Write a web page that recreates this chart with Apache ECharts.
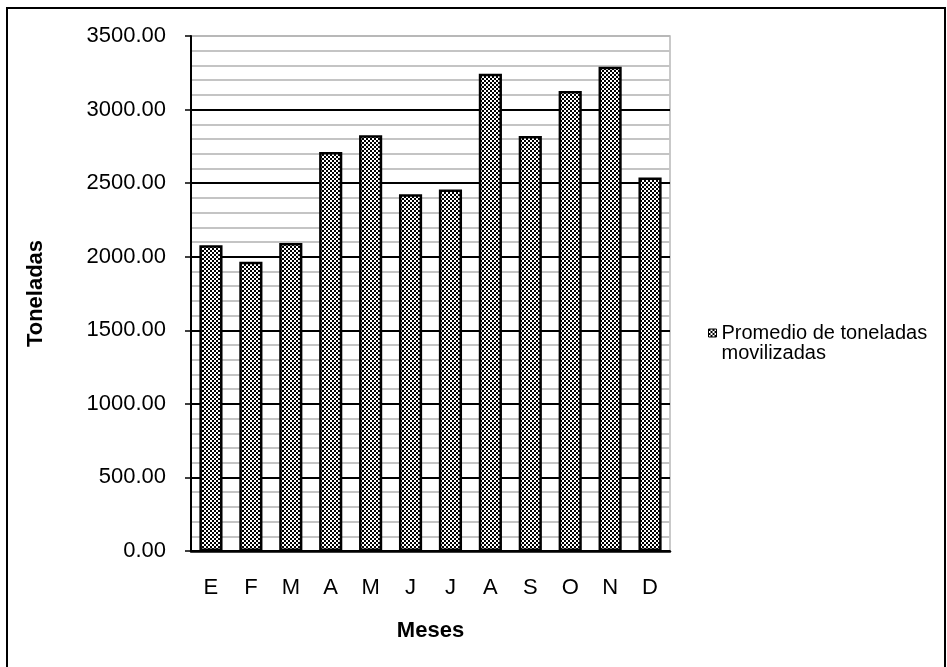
<!DOCTYPE html>
<html>
<head>
<meta charset="utf-8">
<script src="https://cdn.jsdelivr.net/npm/echarts@6/dist/echarts.min.js"></script>
<style>
  html, body { margin: 0; padding: 0; background: #fff; }
  #chart { width: 947px; height: 667px; }
</style>
</head>
<body>
<div id="chart"></div>
<script>
// Months (Spanish initials) and average tonnage moved per month
const months = ['E', 'F', 'M', 'A', 'M', 'J', 'J', 'A', 'S', 'O', 'N', 'D'];
const tonnage = [2078, 1966, 2093, 2711, 2825, 2425, 2457, 3243, 2820, 3127, 3291, 2539];
const seriesName = 'Promedio de toneladas movilizadas';
const yMax = 3500;
const yStep = 500;

// Small checkerboard fill for the bars
function checkerPattern() {
  const c = document.createElement('canvas');
  c.width = 4; c.height = 4;
  const g = c.getContext('2d');
  g.fillStyle = '#ffffff';
  g.fillRect(0, 0, 4, 4);
  g.fillStyle = '#000000';
  g.fillRect(0, 0, 2, 2);
  g.fillRect(2, 2, 2, 2);
  return c;
}
const pattern = { image: checkerPattern(), repeat: 'repeat' };

const font = '"Liberation Sans", Arial, sans-serif';
const chart = echarts.init(document.getElementById('chart'), null, { renderer: 'canvas' });

// Major grid lines are black, the top one (at the max) grey like the plot frame
const majorColors = [];
for (let v = 0; v <= yMax; v += yStep) majorColors.push(v === yMax ? '#b8b8b8' : '#000000');

chart.setOption({
  animation: false,
  backgroundColor: '#ffffff',
  textStyle: { fontFamily: font },
  graphic: [{
    type: 'rect',
    shape: { x: 7, y: 8, width: 938, height: 700 },
    style: { fill: 'none', stroke: '#000', lineWidth: 2 },
    silent: true
  }],
  grid: {
    left: 191, top: 36, right: 277, bottom: 116,
    show: true, borderColor: '#b8b8b8', borderWidth: 1.5
  },
  legend: {
    left: 703, top: 298,
    itemWidth: 8, itemHeight: 8,
    icon: 'rect',
    // blank first line keeps the swatch level with the first text line
    formatter: () => '{gap|}\n{t|Promedio de toneladas}\n{t|movilizadas}',
    textStyle: {
      fontFamily: font, fontSize: 20, color: '#000',
      rich: {
        gap: { height: 20, lineHeight: 20 },
        t: { fontFamily: font, fontSize: 20, lineHeight: 20, color: '#000' }
      }
    },
    itemStyle: { borderColor: '#000', borderWidth: 1 }
  },
  xAxis: {
    type: 'category',
    data: months,
    name: 'Meses',
    nameLocation: 'middle',
    nameGap: 69,
    nameTextStyle: { fontFamily: font, fontSize: 22, fontWeight: 'bold', color: '#000' },
    axisLine: { lineStyle: { color: '#000', width: 2.5 } },
    axisTick: { show: false },
    axisLabel: { fontFamily: font, fontSize: 22, color: '#000', margin: 26 }
  },
  yAxis: {
    type: 'value',
    min: 0, max: yMax, interval: yStep,
    name: 'Toneladas',
    nameLocation: 'middle',
    nameGap: 144,
    nameRotate: 90,
    nameTextStyle: { fontFamily: font, fontSize: 22, fontWeight: 'bold', color: '#000' },
    axisLine: { show: true, lineStyle: { color: '#000', width: 2 } },
    axisTick: { show: true, length: 6, lineStyle: { color: '#000', width: 1.5 } },
    axisLabel: { fontFamily: font, fontSize: 22, color: '#000', margin: 25, formatter: v => v.toFixed(2) },
    splitLine: { show: true, lineStyle: { color: majorColors, width: 2 } },
    minorTick: { show: false, splitNumber: 5 },
    minorSplitLine: { show: true, lineStyle: { color: '#c4c4c4', width: 2 } }
  },
  series: [{
    name: seriesName,
    type: 'bar',
    data: tonnage,
    barCategoryGap: '42%',
    itemStyle: { color: pattern, borderColor: '#000', borderWidth: 2.5 }
  }]
});
</script>
</body>
</html>
